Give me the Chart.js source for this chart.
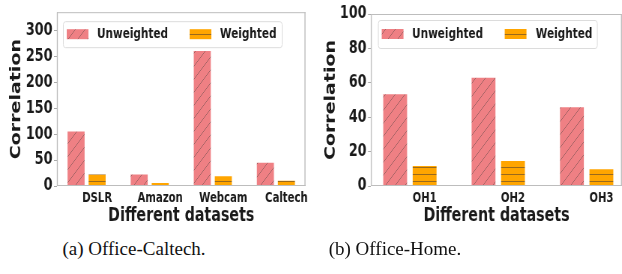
<!DOCTYPE html>
<html>
<head>
<meta charset="utf-8">
<script src="https://cdn.jsdelivr.net/npm/chart.js@4"></script>
<style>
  body { margin: 0; background: #fff; width: 622px; height: 274px; position: relative; overflow: hidden; }
  canvas { position: absolute; top: 0; }
  .cap { position: absolute; font-family: 'Liberation Serif', 'Times New Roman', serif; font-size: 19px; color: #111; white-space: nowrap; transform: translateX(-50%); }
</style>
</head>
<body>
<!-- canvases are drawn wider than shown, then squeezed to match the narrow look of the original -->
<canvas id="left" width="415" height="227" style="left:0px;width:311px;height:227px"></canvas>
<canvas id="right" width="416" height="227" style="left:310px;width:312px;height:227px"></canvas>
<div class="cap" style="left:134px;top:238px">(a) Office-Caltech.</div>
<div class="cap" style="left:395px;top:238px">(b) Office-Home.</div>
<script>
// data
const caltechSets = ['DSLR', 'Amazon', 'Webcam', 'Caltech'];
const caltechUnweighted = [105, 22, 260, 45];
const caltechWeighted = [22, 6, 19, 10];

const homeSets = ['OH1', 'OH2', 'OH3'];
const homeUnweighted = [53.3, 63, 45.8];
const homeWeighted = [11.6, 14.5, 9.7];

const seriesNames = ['Unweighted', 'Weighted'];

Chart.defaults.font.family = "'DejaVu Sans', sans-serif";
Chart.defaults.color = '#1a1a1a';

// hatch fills like matplotlib's '/' and '-'
function slashFill(ctx) {
  const n = 13;
  const c = document.createElement('canvas');
  c.width = n; c.height = n;
  const g = c.getContext('2d');
  g.fillStyle = '#EF8084';
  g.fillRect(0, 0, n, n);
  g.strokeStyle = 'rgba(100,75,75,0.55)';
  g.lineWidth = 1;
  g.beginPath();
  g.moveTo(0, n); g.lineTo(n, 0);
  g.moveTo(-n / 2, n / 2); g.lineTo(n / 2, -n / 2);
  g.moveTo(n / 2, n * 1.5); g.lineTo(n * 1.5, n / 2);
  g.stroke();
  return ctx.createPattern(c, 'repeat');
}

function dashFill(ctx) {
  const c = document.createElement('canvas');
  c.width = 8; c.height = 7;
  const g = c.getContext('2d');
  g.fillStyle = '#FFA500';
  g.fillRect(0, 0, 8, 7);
  g.strokeStyle = 'rgba(110,80,40,0.7)';
  g.lineWidth = 1;
  g.beginPath();
  g.moveTo(0, 6.5); g.lineTo(8, 6.5);
  g.stroke();
  return ctx.createPattern(c, 'repeat');
}

// grey box round the plot area
const frameBox = {
  id: 'frameBox',
  afterDatasetsDraw(chart) {
    const { ctx, chartArea: a } = chart;
    ctx.save();
    ctx.strokeStyle = '#bdbdbd';
    ctx.lineWidth = 1;
    ctx.beginPath();
    ctx.moveTo(a.left, a.top + 0.5); ctx.lineTo(a.right, a.top + 0.5);
    ctx.moveTo(a.left, a.bottom - 0.5); ctx.lineTo(a.right, a.bottom - 0.5);
    ctx.stroke();
    ctx.lineWidth = 1.35;
    ctx.beginPath();
    ctx.moveTo(a.left + 0.5, a.top); ctx.lineTo(a.left + 0.5, a.bottom);
    ctx.moveTo(a.right - 0.7, a.top); ctx.lineTo(a.right - 0.7, a.bottom);
    ctx.stroke();
    ctx.restore();
  }
};

// legend inside the plot, with a frame
const boxLegend = {
  id: 'boxLegend',
  afterDraw(chart, args, o) {
    const { ctx, chartArea: a } = chart;
    const x0 = a.left + o.dx, y0 = a.top + o.dy;
    ctx.save();
    ctx.fillStyle = 'rgba(255,255,255,0.85)';
    ctx.strokeStyle = '#dcdcdc';
    ctx.lineWidth = 1;
    ctx.beginPath();
    ctx.roundRect(x0 + 0.5, y0 + 0.5, o.w, o.h, 3);
    ctx.fill();
    ctx.stroke();
    const mid = y0 + o.h / 2;
    chart.data.datasets.forEach((ds, i) => {
      ctx.fillStyle = ds.backgroundColor;
      ctx.fillRect(x0 + o.handles[i], mid - 5, 29, 10);
      ctx.fillStyle = '#1a1a1a';
      ctx.font = "bold 14px 'DejaVu Sans'";
      ctx.textBaseline = 'middle';
      ctx.fillText(ds.label, x0 + o.texts[i], mid);
    });
    ctx.restore();
  }
};

function drawChart(id, sets, unweighted, weighted, cfg) {
  const canvas = document.getElementById(id);
  const ctx = canvas.getContext('2d');
  return new Chart(canvas, {
    type: 'bar',
    data: {
      datasets: [
        {
          label: seriesNames[0],
          data: sets.map((s, i) => ({ x: i, y: unweighted[i] })),
          backgroundColor: slashFill(ctx),
          borderWidth: 0
        },
        {
          label: seriesNames[1],
          data: sets.map((s, i) => ({ x: i, y: weighted[i] })),
          backgroundColor: dashFill(ctx),
          borderWidth: 0
        }
      ]
    },
    options: {
      responsive: false,
      devicePixelRatio: 1,
      animation: false,
      categoryPercentage: 2 / 3,
      barPercentage: 0.81,
      layout: { padding: { left: 0, right: cfg.padRight, top: cfg.padTop, bottom: 0 } },
      scales: {
        x: {
          type: 'linear',
          offset: false,
          min: cfg.xMin,
          max: cfg.xMax,
          grid: { display: false, drawTicks: false, tickLength: 0 },
          border: { display: false },
          afterBuildTicks: scale => {
            scale.ticks = sets.map((s, i) => ({ value: i + 1 / 6 }));
          },
          afterFit: scale => { scale.height = 41; },
          ticks: {
            autoSkip: false,
            maxRotation: 0,
            padding: 4,
            font: { size: 13.5, weight: 'bold' },
            callback: (v, i) => sets[i]
          },
          title: {
            display: true,
            text: 'Different datasets',
            font: { size: 19, weight: 'bold' },
            padding: { top: 0, bottom: 0 }
          }
        },
        y: {
          min: 0,
          max: cfg.yMax,
          grid: { drawOnChartArea: false, tickLength: 4, color: '#aaaaaa' },
          border: { display: false },
          afterFit: scale => { scale.width = cfg.yWidth; },
          ticks: {
            stepSize: cfg.yStep,
            includeBounds: false,
            padding: 2,
            font: { size: 17, weight: 'bold' }
          },
          title: {
            display: true,
            text: 'Correlation',
            font: { size: 19, weight: 'bold' },
            padding: { top: cfg.titlePad, bottom: 0 }
          }
        }
      },
      plugins: {
        legend: { display: false },
        tooltip: { enabled: false },
        boxLegend: cfg.legend
      }
    },
    plugins: [frameBox, boxLegend]
  });
}

drawChart('left', caltechSets, caltechUnweighted, caltechWeighted, {
  xMin: -0.47, xMax: 3.47, yMax: 335, yStep: 50,
  padTop: 5, padRight: 5.3, yWidth: 76, titlePad: 11,
  legend: { dx: 8, dy: 9, w: 292, h: 26, handles: [5, 169], texts: [45.5, 209.5] }
});

drawChart('right', homeSets, homeUnweighted, homeWeighted, {
  xMin: -0.44, xMax: 2.4, yMax: 100, yStep: 20,
  padTop: 14, padRight: 0, yWidth: 81.3, titlePad: 16.5,
  legend: { dx: 9.3, dy: 6, w: 292, h: 28, handles: [5, 169], texts: [45.5, 210.5] }
});
</script>
</body>
</html>
